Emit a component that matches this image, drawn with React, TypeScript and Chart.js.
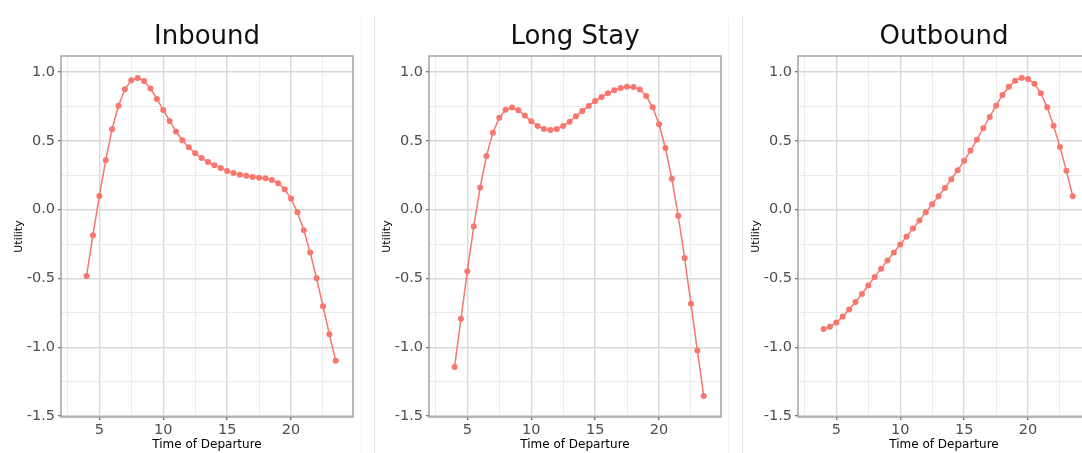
import React, { useEffect, useRef } from "react";
import { Chart, registerables } from "chart.js";

Chart.register(...registerables);

const hours = [4, 4.5, 5, 5.5, 6, 6.5, 7, 7.5, 8, 8.5, 9, 9.5, 10, 10.5, 11, 11.5, 12, 12.5, 13, 13.5, 14, 14.5, 15, 15.5, 16, 16.5, 17, 17.5, 18, 18.5, 19, 19.5, 20, 20.5, 21, 21.5, 22, 22.5, 23, 23.5];

const inbound = [-0.482, -0.186, 0.099, 0.358, 0.584, 0.755, 0.874, 0.939, 0.956, 0.935, 0.879, 0.804, 0.724, 0.644, 0.567, 0.504, 0.453, 0.409, 0.375, 0.346, 0.322, 0.303, 0.281, 0.266, 0.254, 0.245, 0.237, 0.232, 0.228, 0.215, 0.191, 0.148, 0.08, -0.019, -0.15, -0.312, -0.499, -0.702, -0.906, -1.099];

const longStay = [-1.143, -0.794, -0.448, -0.123, 0.16, 0.39, 0.559, 0.668, 0.726, 0.741, 0.722, 0.683, 0.642, 0.608, 0.586, 0.579, 0.586, 0.608, 0.639, 0.678, 0.717, 0.753, 0.789, 0.818, 0.845, 0.867, 0.884, 0.893, 0.891, 0.872, 0.826, 0.743, 0.62, 0.448, 0.225, -0.044, -0.351, -0.685, -1.024, -1.354];

const outbound = [-0.867, -0.852, -0.821, -0.777, -0.726, -0.671, -0.613, -0.552, -0.489, -0.429, -0.37, -0.312, -0.254, -0.196, -0.138, -0.08, -0.019, 0.039, 0.097, 0.157, 0.22, 0.286, 0.354, 0.429, 0.508, 0.591, 0.673, 0.755, 0.833, 0.893, 0.937, 0.956, 0.949, 0.915, 0.845, 0.743, 0.61, 0.455, 0.283, 0.097];

const panelTitles = ["Inbound", "Long Stay", "Outbound"];
const panelSeries = [inbound, longStay, outbound];

const xTicks = [2.5, 5, 7.5, 10, 12.5, 15, 17.5, 20, 22.5];
const xMajor = [5, 10, 15, 20];
const yTicks = [-1.5, -1.25, -1, -0.75, -0.5, -0.25, 0, 0.25, 0.5, 0.75, 1];
const yMajor = [-1.5, -1, -0.5, 0, 0.5, 1];

const xLabel = "Time of Departure";
const yLabel = "Utility";

const FONT = "'DejaVu Sans', sans-serif";
const RED = "#f8766d";

const CANVAS_W = 361;
const CANVAS_H = 453;
const canvasLefts = [0, 368, 737];

function makePanelPlugin(text: string) {
  return {
    id: "panelDeco",
    afterDraw(chart: any) {
      const { ctx, chartArea } = chart;
      ctx.save();
      ctx.strokeStyle = "#9c9c9c";
      ctx.lineWidth = 1.4;
      ctx.strokeRect(
        chartArea.left,
        chartArea.top,
        chartArea.right - chartArea.left,
        chartArea.bottom - chartArea.top
      );
      ctx.font = "26px " + FONT;
      ctx.fillStyle = "#111";
      ctx.textAlign = "center";
      ctx.textBaseline = "alphabetic";
      ctx.fillText(text, (chartArea.left + chartArea.right) / 2, 44);
      ctx.restore();
    },
  };
}

function Panel({ index }: { index: number }) {
  const ref = useRef<HTMLCanvasElement | null>(null);
  useEffect(() => {
    if (!ref.current) return;
    const values = panelSeries[index];
    const chart = new Chart(ref.current, {
      type: "line",
      data: {
        datasets: [
          {
            data: hours.map((h, i) => ({ x: h, y: values[i] })),
            borderColor: RED,
            backgroundColor: RED,
            borderWidth: 1.5,
            pointRadius: 3,
            pointBorderWidth: 0,
            pointBackgroundColor: RED,
            tension: 0,
          },
        ],
      },
      options: {
        responsive: false,
        animation: false,
        devicePixelRatio: 1,
        layout: { padding: { top: 56, left: 0, right: 8, bottom: 0 } },
        plugins: { legend: { display: false }, tooltip: { enabled: false } },
        scales: {
          x: {
            type: "linear",
            min: 2.0,
            max: 24.85,
            afterBuildTicks: (s: any) => {
              s.ticks = xTicks.map((v) => ({ value: v }));
            },
            afterFit: (s: any) => {
              s.height = 36;
            },
            ticks: {
              autoSkip: false,
              maxRotation: 0,
              padding: 2,
              color: "#4d4d4d",
              font: { family: FONT, size: 14.5 },
              callback: (v: any) => (xMajor.includes(Number(v)) ? String(v) : ""),
            },
            grid: {
              color: (c: any) => (xMajor.includes(c.tick?.value) ? "#d9d9d9" : "#ebebeb"),
              lineWidth: (c: any) => (xMajor.includes(c.tick?.value) ? 1.4 : 1),
              tickColor: (c: any) => (xMajor.includes(c.tick?.value) ? "#666" : "rgba(0,0,0,0)"),
              tickLength: 3,
              tickWidth: 1.2,
            },
            border: { display: false },
            title: {
              display: true,
              text: xLabel,
              color: "#000",
              font: { family: FONT, size: 12 },
              padding: { top: 0, bottom: 0.5 },
            },
          },
          y: {
            type: "linear",
            min: -1.507,
            max: 1.116,
            afterBuildTicks: (s: any) => {
              s.ticks = yTicks.map((v) => ({ value: v }));
            },
            afterFit: (s: any) => {
              s.width = 61;
            },
            ticks: {
              autoSkip: false,
              padding: 3,
              color: "#4d4d4d",
              font: { family: FONT, size: 14.5 },
              callback: (v: any) => (yMajor.includes(Number(v)) ? Number(v).toFixed(1) : ""),
            },
            grid: {
              color: (c: any) => (yMajor.includes(c.tick?.value) ? "#d9d9d9" : "#ebebeb"),
              lineWidth: (c: any) => (yMajor.includes(c.tick?.value) ? 1.4 : 1),
              tickColor: (c: any) => (yMajor.includes(c.tick?.value) ? "#666" : "rgba(0,0,0,0)"),
              tickLength: 3,
              tickWidth: 1.2,
            },
            border: { display: false },
            title: {
              display: true,
              text: yLabel,
              color: "#000",
              font: { family: FONT, size: 11 },
              padding: { top: 13, bottom: 0 },
            },
          },
        },
      },
      plugins: [makePanelPlugin(panelTitles[index])],
    } as any);
    return () => chart.destroy();
  }, [index]);
  return (
    <canvas
      ref={ref}
      width={CANVAS_W}
      height={CANVAS_H}
      style={{
        position: "absolute",
        left: canvasLefts[index],
        top: 0,
        width: CANVAS_W,
        height: CANVAS_H,
      }}
    />
  );
}

const separators = [
  { x: 361, color: "#f2f2f2" },
  { x: 374, color: "#e3e3e3" },
  { x: 728, color: "#f2f2f2" },
  { x: 742, color: "#e3e3e3" },
];

export default function App() {
  return (
    <div
      style={{
        position: "fixed",
        left: 0,
        top: 0,
        width: 1082,
        height: 453,
        overflow: "hidden",
        background: "#fff",
      }}
    >
      {[0, 1, 2].map((i) => (
        <Panel key={i} index={i} />
      ))}
      {separators.map((s, i) => (
        <div
          key={i}
          style={{
            position: "absolute",
            left: s.x,
            top: 17,
            width: 1,
            height: 436,
            background: s.color,
            zIndex: 2,
          }}
        />
      ))}
    </div>
  );
}
